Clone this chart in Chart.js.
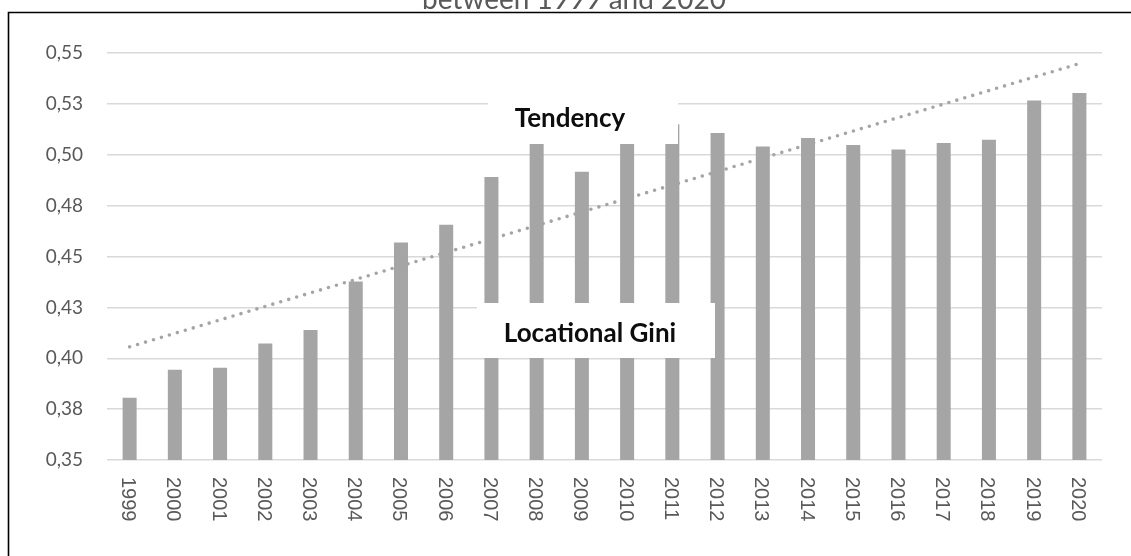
<!DOCTYPE html>
<html>
<head>
<meta charset="utf-8">
<script src="https://cdn.jsdelivr.net/npm/chart.js@4.4.1/dist/chart.umd.min.js"></script>
<style>
  html, body { margin: 0; padding: 0; background: #fff; }
  #wrap { position: relative; width: 1131px; height: 556px; }
</style>
</head>
<body>
<div id="wrap"><canvas id="chart" width="1131" height="556"></canvas></div>
<script>
const years = ['1999', '2000', '2001', '2002', '2003', '2004', '2005', '2006', '2007', '2008', '2009',
  '2010', '2011', '2012', '2013', '2014', '2015', '2016', '2017', '2018', '2019', '2020'];
const giniValues = [0.3806, 0.3943, 0.3953, 0.4072, 0.4139, 0.4377, 0.4569, 0.4656, 0.4891, 0.5055, 0.4917,
  0.5055, 0.5150, 0.5107, 0.5041, 0.5082, 0.5048, 0.5026, 0.5058, 0.5074, 0.5267, 0.5304];
// linear trend, only the two ends are given, the line spans the gaps
const trendValues = [0.4056, null, null, null, null, null, null, null, null, null, null,
  null, null, null, null, null, null, null, null, null, null, 0.5448];
const yTickLabels = ['0,35', '0,38', '0,40', '0,43', '0,45', '0,48', '0,50', '0,53', '0,55'];
const titleText = 'between 1999 and 2020';
const giniLabel = 'Locational Gini';
const trendLabel = 'Tendency';

const GREY = '#a5a5a5';
const TEXT = '#595959';

// frame, cut title, rotated year labels, and the two moved labels
const decorPlugin = {
  id: 'decor',
  beforeDraw(chart) {
    const ctx = chart.ctx;
    ctx.save();
    ctx.strokeStyle = '#000';
    ctx.lineWidth = 1.6;
    ctx.beginPath();
    ctx.moveTo(8.5, 600);
    ctx.lineTo(8.5, 12.5);
    ctx.lineTo(1140, 12.5);
    ctx.stroke();

    ctx.fillStyle = TEXT;
    ctx.font = '28px Lato';
    ctx.textAlign = 'center';
    ctx.textBaseline = 'alphabetic';
    ctx.fillText(titleText, 574, 9);
    ctx.restore();
  },
  afterDraw(chart) {
    const ctx = chart.ctx;
    const xs = chart.scales.x;
    ctx.save();
    ctx.fillStyle = TEXT;
    ctx.font = '20px "Liberation Sans"';
    ctx.textAlign = 'left';
    ctx.textBaseline = 'middle';
    years.forEach((y, i) => {
      const px = xs.getPixelForValue(i);
      ctx.save();
      ctx.translate(px - 2, 477);
      ctx.rotate(Math.PI / 2);
      ctx.fillText(y, 0, 0);
      ctx.restore();
    });

    ctx.fillStyle = '#fff';
    ctx.fillRect(488, 88, 190, 56);
    ctx.fillRect(477, 303, 238, 55);
    ctx.fillStyle = '#0d0d0d';
    ctx.font = 'bold 26px Lato';
    ctx.textAlign = 'center';
    ctx.textBaseline = 'alphabetic';
    ctx.fillText(trendLabel, 570, 127);
    ctx.fillText(giniLabel, 590, 342);
    ctx.restore();
  }
};

const ctx = document.getElementById('chart').getContext('2d');
new Chart(ctx, {
  type: 'bar',
  data: {
    labels: years,
    datasets: [
      {
        type: 'line',
        label: trendLabel,
        data: trendValues,
        spanGaps: true,
        borderColor: GREY,
        borderWidth: 3.6,
        borderDash: [0, 8.3],
        borderCapStyle: 'round',
        pointRadius: 0,
        fill: false,
        order: 0
      },
      {
        label: giniLabel,
        data: giniValues,
        backgroundColor: GREY,
        barPercentage: 0.31,
        categoryPercentage: 1,
        order: 1
      }
    ]
  },
  options: {
    responsive: false,
    animation: false,
    layout: { padding: { top: 53, right: 29, left: 0, bottom: 0 } },
    plugins: {
      legend: { display: false },
      title: { display: false },
      tooltip: { enabled: false }
    },
    scales: {
      x: {
        ticks: { display: false },
        grid: { display: false },
        border: { display: false },
        afterFit(s) { s.height = 96; }
      },
      y: {
        min: 0.35,
        max: 0.55,
        ticks: {
          stepSize: 0.025,
          padding: 24,
          color: TEXT,
          font: { family: 'Lato', size: 19 },
          callback: (v, i) => yTickLabels[i]
        },
        grid: { color: '#d9d9d9', lineWidth: 1.4, drawTicks: false },
        border: { display: false },
        afterFit(s) { s.width = 107; }
      }
    }
  },
  plugins: [decorPlugin]
});
</script>
</body>
</html>
